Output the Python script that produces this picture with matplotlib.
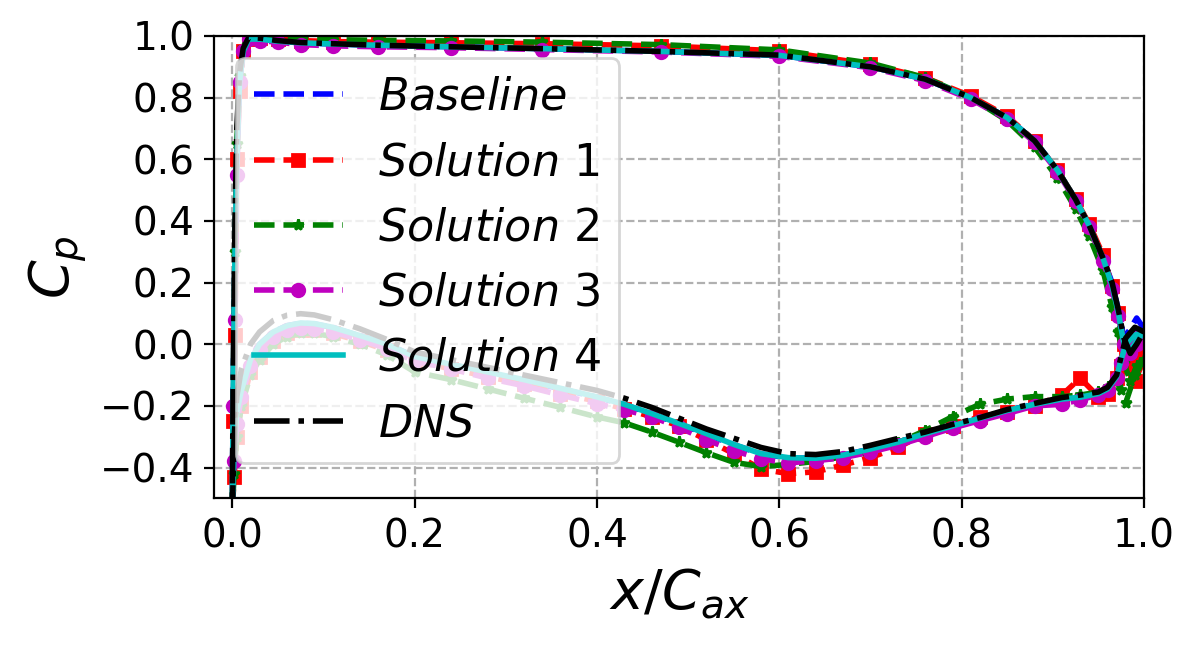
import numpy as np
import matplotlib
matplotlib.use('Agg')
import matplotlib.pyplot as plt

# suction side stations (LE -> TE)
x_ss = [0.0, 0.002, 0.005, 0.01, 0.02, 0.03, 0.045, 0.06, 0.075, 0.09, 0.11,
        0.14, 0.17, 0.2, 0.24, 0.28, 0.32, 0.36, 0.4, 0.43, 0.46, 0.49, 0.52,
        0.55, 0.58, 0.61, 0.64, 0.67, 0.70, 0.73, 0.76, 0.79, 0.82, 0.85, 0.88,
        0.91, 0.93, 0.95, 0.96, 0.97, 0.975, 0.98, 0.99, 1.0]
# pressure side stations (LE -> TE)
x_ps = [0.0, 0.001, 0.003, 0.005, 0.008, 0.012, 0.018, 0.03, 0.05, 0.075, 0.11,
        0.16, 0.24, 0.34, 0.47, 0.6, 0.7, 0.76, 0.81, 0.85, 0.88, 0.905, 0.925,
        0.94, 0.955, 0.965, 0.972, 0.978, 0.985, 0.992, 1.0]

dns_ss = [-0.55, -0.30, -0.17, -0.08, 0.0, 0.04, 0.077, 0.094, 0.099, 0.095, 0.08,
          0.05, 0.015, -0.025, -0.05, -0.075, -0.10, -0.125, -0.15, -0.175, -0.205,
          -0.24, -0.275, -0.305, -0.335, -0.355, -0.358, -0.348, -0.328, -0.306,
          -0.285, -0.26, -0.238, -0.212, -0.192, -0.173, -0.165, -0.155, -0.14,
          -0.10, -0.04, 0.02, 0.055, 0.04]
dns_ps = [-0.55, -0.1, 0.4, 0.7, 0.88, 0.96, 0.995, 0.993, 0.985, 0.979, 0.975,
          0.97, 0.965, 0.959, 0.95, 0.938, 0.9, 0.86, 0.8, 0.735, 0.66, 0.565,
          0.47, 0.385, 0.28, 0.2, 0.11, 0.02, -0.03, 0.0, 0.04]

sol4_ss = [-0.55, -0.35, -0.22, -0.15, -0.05, 0.0, 0.04, 0.06, 0.069, 0.067, 0.055,
           0.028, 0.0, -0.04, -0.065, -0.09, -0.115, -0.143, -0.171, -0.195, -0.225,
           -0.257, -0.29, -0.325, -0.355, -0.368, -0.37, -0.36, -0.34, -0.318,
           -0.29, -0.265, -0.24, -0.215, -0.195, -0.178, -0.172, -0.16, -0.145,
           -0.105, -0.05, 0.0, 0.03, 0.04]
sol4_ps = [-0.55, -0.15, 0.3, 0.6, 0.85, 0.95, 0.99, 0.99, 0.983, 0.978, 0.974,
           0.97, 0.965, 0.959, 0.95, 0.937, 0.9, 0.86, 0.8, 0.735, 0.66, 0.565,
           0.47, 0.385, 0.28, 0.19, 0.1, 0.0, -0.02, 0.01, 0.04]

sol3_ss = [-0.55, -0.38, -0.26, -0.17, -0.07, -0.02, 0.025, 0.045, 0.052, 0.05, 0.04,
           0.015, -0.015, -0.055, -0.08, -0.11, -0.135, -0.165, -0.193, -0.213,
           -0.235, -0.27, -0.31, -0.345, -0.372, -0.385, -0.378, -0.368, -0.35,
           -0.328, -0.3, -0.272, -0.248, -0.225, -0.2, -0.195, -0.18, -0.165, -0.15,
           -0.11, -0.06, -0.01, 0.02, 0.03]
sol3_ps = [-0.55, -0.2, 0.08, 0.55, 0.85, 0.95, 0.99, 0.985, 0.98, 0.972, 0.968,
           0.965, 0.962, 0.956, 0.948, 0.934, 0.897, 0.855, 0.795, 0.73, 0.655,
           0.56, 0.465, 0.38, 0.27, 0.18, 0.09, 0.0, -0.03, 0.0, 0.03]

sol1_ss = [-0.55, -0.43, -0.3, -0.2, -0.09, -0.04, 0.01, 0.035, 0.045, 0.045, 0.035,
           0.01, -0.02, -0.055, -0.08, -0.105, -0.13, -0.16, -0.185, -0.21, -0.235,
           -0.265, -0.31, -0.355, -0.405, -0.42, -0.414, -0.392, -0.368, -0.335,
           -0.29, -0.265, -0.235, -0.22, -0.2, -0.165, -0.11, -0.17, -0.16, -0.11,
           -0.07, -0.02, -0.12, -0.05]
sol1_ps = [-0.55, -0.25, 0.03, 0.6, 0.82, 0.95, 0.99, 0.995, 0.99, 0.985, 0.982,
           0.98, 0.978, 0.975, 0.968, 0.952, 0.908, 0.865, 0.805, 0.74, 0.66, 0.565,
           0.47, 0.39, 0.29, 0.19, 0.1, 0.0, -0.06, -0.03, -0.05]

sol2_ss = [-0.55, -0.42, -0.3, -0.2, -0.1, -0.05, 0.0, 0.025, 0.035, 0.035, 0.025,
           0.0, -0.035, -0.09, -0.115, -0.145, -0.175, -0.205, -0.236, -0.255,
           -0.285, -0.318, -0.352, -0.383, -0.397, -0.39, -0.38, -0.365, -0.35,
           -0.32, -0.28, -0.235, -0.195, -0.178, -0.17, -0.17, -0.165, -0.155,
           -0.14, -0.12, -0.15, -0.19, -0.1, -0.05]
sol2_ps = [-0.55, -0.2, 0.3, 0.65, 0.87, 0.96, 0.995, 0.997, 0.993, 0.99, 0.988,
           0.986, 0.984, 0.98, 0.972, 0.955, 0.912, 0.865, 0.8, 0.725, 0.64, 0.54,
           0.44, 0.35, 0.24, 0.12, 0.04, -0.06, -0.12, -0.07, -0.05]

base_ss = [-0.55, -0.35, -0.22, -0.15, -0.05, 0.0, 0.04, 0.06, 0.068, 0.066, 0.054,
           0.027, 0.0, -0.04, -0.066, -0.092, -0.117, -0.145, -0.172, -0.196,
           -0.226, -0.258, -0.292, -0.326, -0.356, -0.369, -0.37, -0.36, -0.34,
           -0.318, -0.29, -0.265, -0.24, -0.215, -0.195, -0.178, -0.172, -0.16,
           -0.145, -0.105, -0.05, 0.0, 0.04, 0.05]
base_ps = [-0.55, -0.15, 0.3, 0.6, 0.85, 0.95, 0.99, 0.99, 0.983, 0.978, 0.974,
           0.97, 0.965, 0.959, 0.95, 0.937, 0.9, 0.86, 0.8, 0.735, 0.66, 0.565,
           0.47, 0.385, 0.28, 0.2, 0.11, 0.02, 0.05, 0.085, 0.05]


def loop(ss, ps):
    # suction side TE -> LE, then pressure side LE -> TE
    x = np.concatenate([np.array(x_ss)[::-1], np.array(x_ps)[1:]])
    y = np.concatenate([np.array(ss)[::-1], np.array(ps)[1:]])
    return x, y


fig = plt.figure(figsize=(5.985, 3.225), dpi=200)
ax = fig.add_axes([0.1788, 0.2274, 0.7769, 0.7168])

x, y = loop(base_ss, base_ps)
ax.plot(x, y, 'b--', lw=2, label=r'$Baseline$')
x, y = loop(sol1_ss, sol1_ps)
ax.plot(x, y, 'r--s', lw=2, ms=4.5, label=r'$Solution$ 1')
x, y = loop(sol2_ss, sol2_ps)
ax.plot(x, y, 'g--*', lw=2, ms=4, label=r'$Solution$ 2')
x, y = loop(sol3_ss, sol3_ps)
ax.plot(x, y, 'm--o', lw=2, ms=4.5, label=r'$Solution$ 3')
x, y = loop(sol4_ss, sol4_ps)
ax.plot(x, y, 'c-', lw=2, label=r'$Solution$ 4')
x, y = loop(dns_ss, dns_ps)
ax.plot(x, y, 'k-.', lw=2, label=r'$DNS$')

ax.set_xlim(-0.02, 1.0)
ax.set_ylim(-0.5, 1.0)
ax.set_xticks([0.0, 0.2, 0.4, 0.6, 0.8, 1.0])
ax.set_yticks([-0.4, -0.2, 0.0, 0.2, 0.4, 0.6, 0.8, 1.0])
ax.tick_params(labelsize=14)
ax.set_xlabel(r'$x/C_{ax}$', fontsize=20)
ax.set_ylabel(r'$C_p$', fontsize=20)
ax.grid(linestyle='--')
ax.legend(loc='upper left', fontsize=16)

fig.savefig('out.png', dpi=200)
